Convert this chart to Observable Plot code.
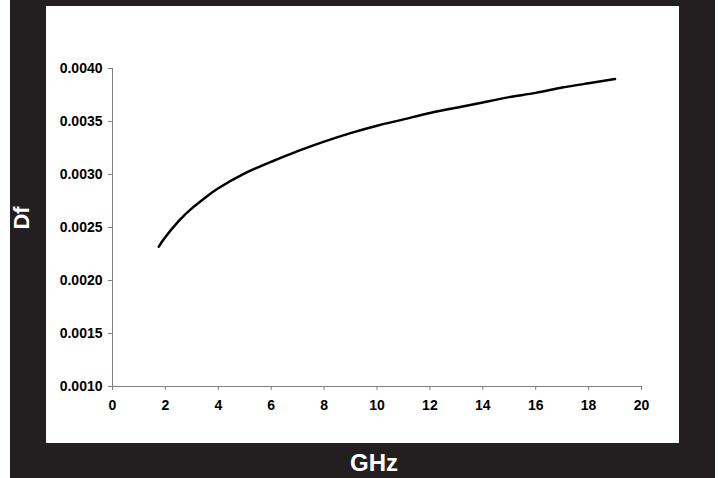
<!DOCTYPE html>
<html>
<head>
<meta charset="utf-8">
<script src="https://cdn.jsdelivr.net/npm/d3@7"></script>
<script src="https://cdn.jsdelivr.net/npm/@observablehq/plot@0.6"></script>
<style>
  html, body { margin: 0; padding: 0; background: #fff; width: 722px; height: 478px; overflow: hidden; }
  #frame { position: absolute; left: 10px; top: 0; width: 705px; height: 478px; background: #231f20; }
  #chart { position: absolute; left: 36px; top: 6px; width: 633px; height: 437px; background: #fff; }
  .lab { position: absolute; color: #fff; font-family: "Liberation Sans", Arial, sans-serif; font-weight: bold; }
  #ylab { left: 12px; top: 218px; font-size: 22px; transform: translate(-50%, -50%) rotate(-90deg); }
  #xlab { left: 364px; top: 463px; font-size: 24px; transform: translate(-50%, -50%); }
</style>
</head>
<body>
<div id="frame">
  <div id="chart"></div>
  <div class="lab" id="ylab">Df</div>
  <div class="lab" id="xlab">GHz</div>
</div>
<script>
const freqGHz = [1.75, 2, 2.5, 3, 3.5, 4, 5, 6, 7, 8, 9, 10, 11, 12, 13, 14, 15, 16, 17, 18, 19];
const df = [0.00232, 0.00241, 0.00256, 0.00268, 0.00278, 0.00287, 0.00301, 0.00312, 0.00322, 0.00331, 0.00339, 0.00346, 0.00352, 0.00358, 0.00363, 0.00368, 0.00373, 0.00377, 0.00382, 0.00386, 0.0039];
const xTicks = [0, 2, 4, 6, 8, 10, 12, 14, 16, 18, 20];
const yTicks = [0.0010, 0.0015, 0.0020, 0.0025, 0.0030, 0.0035, 0.0040];

const data = freqGHz.map((f, i) => ({f, d: df[i]}));

const chart = Plot.plot({
  width: 633,
  height: 437,
  marginLeft: 66,
  marginRight: 38,
  marginTop: 62,
  marginBottom: 57,
  style: {fontFamily: "'Liberation Sans', Arial, sans-serif", fontSize: "14px", fontWeight: "bold", background: "#fff", color: "#000"},
  x: {domain: [0, 20]},
  y: {domain: [0.001, 0.004]},
  marks: [
    Plot.ruleX([0], {stroke: "#808080", strokeWidth: 1}),
    Plot.ruleY([0.001], {stroke: "#808080", strokeWidth: 1}),
    Plot.axisX({ticks: xTicks, tickSize: 4, tickPadding: 10, stroke: "#808080", fill: "#000", fontSize: 14, label: null, tickFormat: d3.format("d")}),
    Plot.axisY({ticks: yTicks, tickSize: 4, tickPadding: 6, stroke: "#808080", fill: "#000", fontSize: 14, label: null, tickFormat: d3.format(".4f")}),
    Plot.line(data, {x: "f", y: "d", stroke: "#000", strokeWidth: 2.5, curve: "natural"})
  ]
});
document.getElementById("chart").appendChild(chart);
</script>
</body>
</html>
